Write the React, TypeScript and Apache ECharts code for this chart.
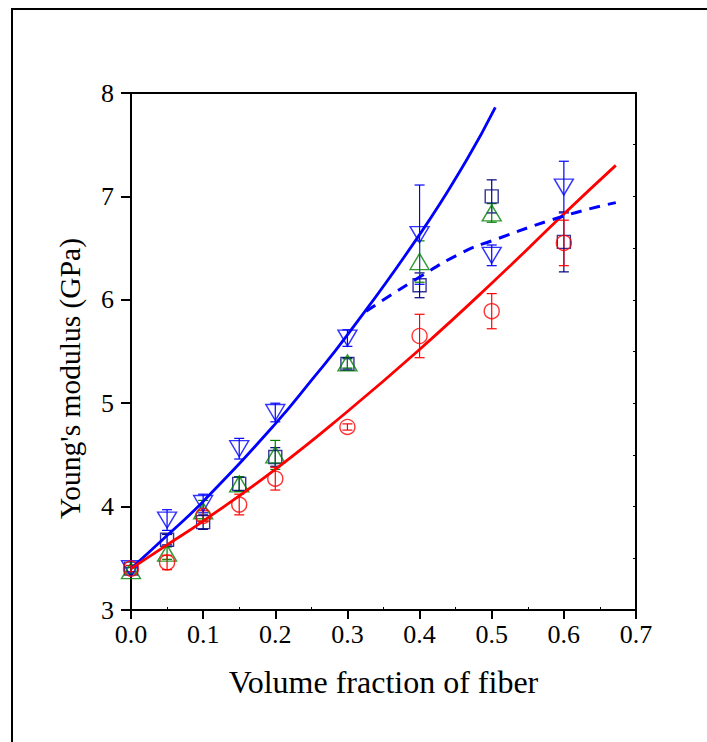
import React, { useEffect, useRef } from "react";
import * as echarts from "echarts";

// ---- data ----
const volumeFractions = [0, 0.05, 0.1, 0.15, 0.2, 0.3, 0.4, 0.5, 0.6];

const blueDownValues = [3.4, 3.87, 4.03, 4.56, 4.91, 5.63, 6.63, 6.43, 7.09];
const blueDownErrors = [0.03, 0.1, 0.09, 0.1, 0.09, 0.08, 0.48, 0.1, 0.25];

const navySquareValues = [3.4, 3.68, 3.85, 4.22, 4.48, 5.38, 6.14, 7.0, 6.56];
const navySquareErrors = [0.03, 0.05, 0.07, 0.07, 0.09, 0.05, 0.12, 0.16, 0.29];

const greenUpFractions = [0, 0.05, 0.1, 0.15, 0.2, 0.3, 0.4, 0.5];
const greenUpValues = [3.38, 3.55, 3.96, 4.22, 4.5, 5.39, 6.37, 6.84];
const greenUpErrors = [0.03, 0.06, 0.1, 0.07, 0.14, 0.05, 0.2, 0.09];

const redCircleValues = [3.4, 3.46, 3.91, 4.02, 4.27, 4.77, 5.65, 5.89, 6.55];
const redCircleErrors = [0.03, 0.07, 0.05, 0.1, 0.11, 0.03, 0.21, 0.17, 0.22];

const blueFitX = [0, 0.05, 0.1, 0.2, 0.25, 0.3, 0.4, 0.465, 0.505];
const blueFitY = [3.4, 3.72, 4.05, 4.8, 5.22, 5.66, 6.63, 7.35, 7.86];

const redFitX = [0, 0.05, 0.1, 0.2, 0.3, 0.4, 0.5, 0.6, 0.672];
const redFitY = [3.4, 3.63, 3.86, 4.36, 4.92, 5.52, 6.16, 6.83, 7.3];

const dashFitX = [0.326, 0.4, 0.46, 0.5, 0.6, 0.672];
const dashFitY = [5.89, 6.22, 6.46, 6.57, 6.81, 6.94];

const xTicks = [0, 0.1, 0.2, 0.3, 0.4, 0.5, 0.6, 0.7];
const yTicks = [3, 4, 5, 6, 7, 8];

const BLUE = "#0000FF";
const NAVY = "#000080";
const GREEN = "#008000";
const RED = "#FF0000";
const FONT = "Liberation Serif";

function pairs(xs: number[], ys: number[]) {
  return xs.map((x, i) => [x, ys[i]]);
}

function errorSeries(name: string, xs: number[], ys: number[], errs: number[], color: string, z: number) {
  return {
    name,
    type: "custom",
    xAxisIndex: 0,
    yAxisIndex: 0,
    z,
    silent: true,
    data: xs.map((x, i) => [x, ys[i] - errs[i], ys[i] + errs[i]]),
    encode: { x: 0, y: [1, 2] },
    renderItem: (params: any, api: any) => {
      const x = api.value(0);
      const lo = api.coord([x, api.value(1)]);
      const hi = api.coord([x, api.value(2)]);
      const hw = 5;
      const style = { stroke: color, lineWidth: 1.2, fill: "none" };
      return {
        type: "group",
        children: [
          { type: "line", shape: { x1: lo[0], y1: lo[1], x2: hi[0], y2: hi[1] }, style },
          { type: "line", shape: { x1: lo[0] - hw, y1: lo[1], x2: lo[0] + hw, y2: lo[1] }, style },
          { type: "line", shape: { x1: hi[0] - hw, y1: hi[1], x2: hi[0] + hw, y2: hi[1] }, style },
        ],
      };
    },
  };
}

function markerSeries(name: string, xs: number[], ys: number[], color: string, symbol: string, size: any, rotate: number, z: number) {
  return {
    name,
    type: "scatter",
    xAxisIndex: 0,
    yAxisIndex: 0,
    z,
    symbol,
    symbolSize: size,
    symbolRotate: rotate,
    data: pairs(xs, ys),
    itemStyle: { color: "rgba(0,0,0,0)", borderColor: color, borderWidth: 1.4 },
  };
}

function fitSeries(name: string, xs: number[], ys: number[], color: string, dashed: boolean) {
  return {
    name,
    type: "line",
    xAxisIndex: 0,
    yAxisIndex: 0,
    z: 10,
    smooth: true,
    showSymbol: false,
    data: pairs(xs, ys),
    lineStyle: { color, width: dashed ? 3 : 2.8, type: dashed ? [11, 8] : "solid" },
  };
}

export default function App() {
  const ref = useRef<HTMLDivElement>(null);
  useEffect(() => {
    document.body.style.margin = "0";
    const chart = echarts.init(ref.current!, null, { renderer: "svg" });
    const axisLine = { show: true, onZero: false, lineStyle: { color: "#000", width: 2 } };
    chart.setOption({
      animation: false,
      backgroundColor: "#fff",
      grid: { left: 131, right: 71, top: 93, bottom: 132, containLabel: false },
      graphic: [
        { type: "line", shape: { x1: 12, y1: 8, x2: 12, y2: 800 }, style: { stroke: "#000", lineWidth: 2 } },
        { type: "line", shape: { x1: 11, y1: 9, x2: 800, y2: 9 }, style: { stroke: "#000", lineWidth: 2 } },
      ],
      xAxis: [
        {
          type: "value",
          position: "bottom",
          min: xTicks[0],
          max: xTicks[xTicks.length - 1],
          interval: 0.1,
          name: "Volume fraction of fiber",
          nameLocation: "middle",
          nameGap: 56,
          nameTextStyle: { fontFamily: FONT, fontSize: 32, color: "#000" },
          axisLine,
          axisTick: { show: true, inside: false, length: 9, lineStyle: { color: "#000", width: 2 } },
          axisLabel: {
            show: true,
            margin: 11,
            fontFamily: FONT,
            fontSize: 26,
            color: "#000",
            formatter: (v: number) => v.toFixed(1),
          },
          splitLine: { show: false },
        },
        {
          type: "value",
          position: "top",
          min: xTicks[0],
          max: xTicks[xTicks.length - 1],
          interval: 0.1,
          axisLine,
          axisTick: { show: false },
          axisLabel: { show: false },
          splitLine: { show: false },
        },
        {
          type: "value",
          position: "bottom",
          min: xTicks[0],
          max: xTicks[xTicks.length - 1],
          interval: 0.1,
          axisLine: { show: false },
          axisTick: { show: false, inside: true },
          minorTick: { show: true, splitNumber: 2, length: 3, lineStyle: { color: "#000", width: 1 } },
          axisLabel: { show: false },
          splitLine: { show: false },
        },
      ],
      yAxis: [
        {
          type: "value",
          position: "left",
          min: yTicks[0],
          max: yTicks[yTicks.length - 1],
          interval: 1,
          name: "Young's modulus (GPa)",
          nameLocation: "middle",
          nameGap: 46,
          nameTextStyle: { fontFamily: FONT, fontSize: 29.5, color: "#000", padding: [0, 54, 0, 0] },
          axisLine,
          axisTick: { show: true, inside: false, length: 10, lineStyle: { color: "#000", width: 2 } },
          axisLabel: { show: true, margin: 17, fontFamily: FONT, fontSize: 26, color: "#000" },
          splitLine: { show: false },
        },
        {
          type: "value",
          position: "right",
          min: yTicks[0],
          max: yTicks[yTicks.length - 1],
          interval: 0.5,
          axisLine,
          axisTick: { show: true, inside: true, length: 3, lineStyle: { color: "#000", width: 1 } },
          axisLabel: { show: false },
          splitLine: { show: false },
        },
      ],
      series: [
        errorSeries("blueErr", volumeFractions, blueDownValues, blueDownErrors, BLUE, 2),
        errorSeries("navyErr", volumeFractions, navySquareValues, navySquareErrors, NAVY, 2),
        errorSeries("greenErr", greenUpFractions, greenUpValues, greenUpErrors, GREEN, 2),
        errorSeries("redErr", volumeFractions, redCircleValues, redCircleErrors, RED, 2),
        markerSeries("Inverted triangles", volumeFractions, blueDownValues, BLUE, "triangle", [19, 16], 180, 3),
        markerSeries("Squares", volumeFractions, navySquareValues, NAVY, "rect", [13, 13], 0, 4),
        markerSeries("Triangles", greenUpFractions, greenUpValues, GREEN, "triangle", [19, 16], 0, 5),
        markerSeries("Circles", volumeFractions, redCircleValues, RED, "circle", 15, 0, 6),
        fitSeries("Blue fit", blueFitX, blueFitY, BLUE, false),
        fitSeries("Red fit", redFitX, redFitY, RED, false),
        fitSeries("Blue dashed fit", dashFitX, dashFitY, BLUE, true),
      ],
    });
    return () => chart.dispose();
  }, []);
  return <div ref={ref} style={{ width: 707, height: 742 }} />;
}
